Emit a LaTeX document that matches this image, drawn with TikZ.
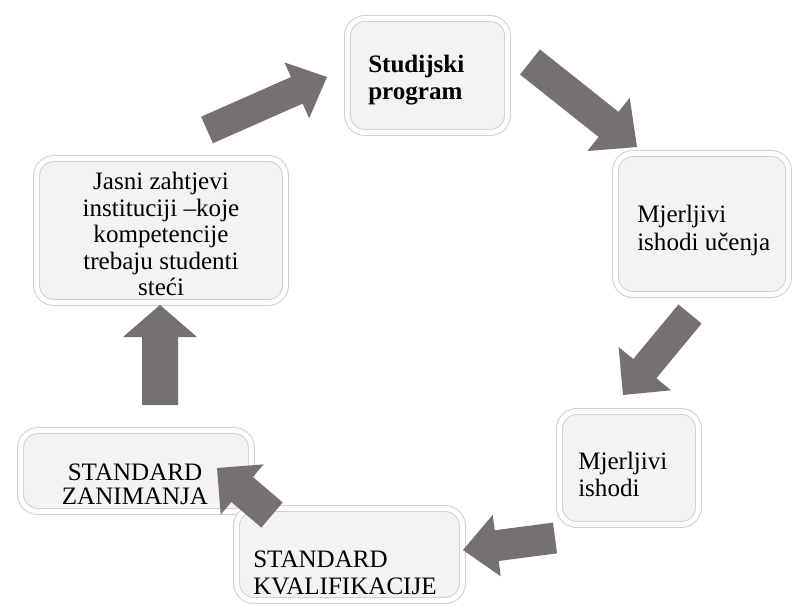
\documentclass[tikz,border=0pt]{standalone}
\usepackage{fontspec}
\setmainfont{Liberation Serif}
\newfontfamily\boxserif{Liberation Serif}
\usetikzlibrary{calc,shadows}
\definecolor{arrowgray}{HTML}{767171}
\definecolor{boxfill}{HTML}{F3F3F3}
\definecolor{frameline}{HTML}{D2D2D2}
\tikzset{
  stagebox/.style={draw=frameline, line width=0.8pt, double=white, double distance=3.6pt,
    fill=boxfill, rounded corners=13pt, inner sep=0pt,
    drop shadow={shadow xshift=0.9pt, shadow yshift=-1.6pt, opacity=0.22, fill=black}},
  lbl/.style={inner sep=0pt, font=\boxserif\fontsize{18.8pt}{20.3pt}\selectfont, text=black},
  blockfill/.style={fill=arrowgray}
}
\newcommand\blockarrow[5]{%
  \fill[blockfill] let \p1=($(#2)-(#1)$), \n1={atan2(\y1,\x1)}, \n2={veclen(\x1,\y1)-#5} in
    ($(#1)+(\n1+90:#3/2)$) --
    ($(#1)+(\n1:\n2*1pt)+(\n1+90:#3/2)$) --
    ($(#1)+(\n1:\n2*1pt)+(\n1+90:#4/2)$) --
    (#2) --
    ($(#1)+(\n1:\n2*1pt)+(\n1-90:#4/2)$) --
    ($(#1)+(\n1:\n2*1pt)+(\n1-90:#3/2)$) --
    ($(#1)+(\n1-90:#3/2)$) -- cycle;}
\begin{document}
\begin{tikzpicture}[x=0.75pt,y=-0.75pt]
\useasboundingbox[fill=white] (0,0) rectangle (795,606);

% boxes
\node[stagebox, minimum width=120pt, minimum height=85.5pt] (b1) at (427.5,75.5) {};
\node[stagebox, minimum width=129.75pt, minimum height=105.75pt] (b2) at (702,224) {};
\node[stagebox, minimum width=186.75pt, minimum height=108pt] (b3) at (161,230.5) {};
\node[stagebox, minimum width=104.25pt, minimum height=84.75pt] (b4) at (629,468) {};
\node[stagebox, minimum width=173.25pt, minimum height=60.75pt] (b5) at (136,471) {};
\node[stagebox, minimum width=169.5pt, minimum height=69pt] (b6) at (349.5,554.5) {};

% texts
\node[lbl, anchor=west, align=left] (t1) at (368,80.5) {\bfseries Studijski\\\bfseries program};
\node[lbl, anchor=west, align=left] (t2) at (637,230.5) {Mjerljivi\\ishodi učenja};
\node[lbl, align=center, font=\boxserif\fontsize{18.8pt}{19.9pt}\selectfont] (t3) at (161,234) {Jasni zahtjevi\\instituciji –koje\\kompetencije\\trebaju studenti\\steći};
\node[lbl, anchor=west, align=left] (t4) at (578,474) {Mjerljivi\\ishodi};
\node[lbl, align=center, font=\boxserif\fontsize{18.8pt}{18pt}\selectfont] (t5) at (135,484) {STANDARD\\ZANIMANJA};
\node[lbl, anchor=west, align=left] (t6) at (253,572.5) {STANDARD\\KVALIFIKACIJE};

% arrow end points
\coordinate (a1s) at (207,130); \coordinate (a1e) at (327,77);
\coordinate (a2s) at (530,62);  \coordinate (a2e) at (637,147);
\coordinate (a3s) at (690,314); \coordinate (a3e) at (623,395);
\coordinate (a4s) at (555,538); \coordinate (a4e) at (463,550);
\coordinate (a5s) at (272,515); \coordinate (a5e) at (217,468);
\coordinate (a6s) at (160,405); \coordinate (a6e) at (160,305);

\blockarrow{a1s}{a1e}{21.75pt}{45.75pt}{24.75pt}
\blockarrow{a2s}{a2e}{24pt}{51pt}{27pt}
\blockarrow{a3s}{a3e}{22.5pt}{51pt}{25.5pt}
\blockarrow{a4s}{a4e}{23.25pt}{46.5pt}{25.5pt}
\blockarrow{a5s}{a5e}{24.75pt}{49.5pt}{24.75pt}
\blockarrow{a6s}{a6e}{27pt}{55.5pt}{24pt}
\end{tikzpicture}
\end{document}
